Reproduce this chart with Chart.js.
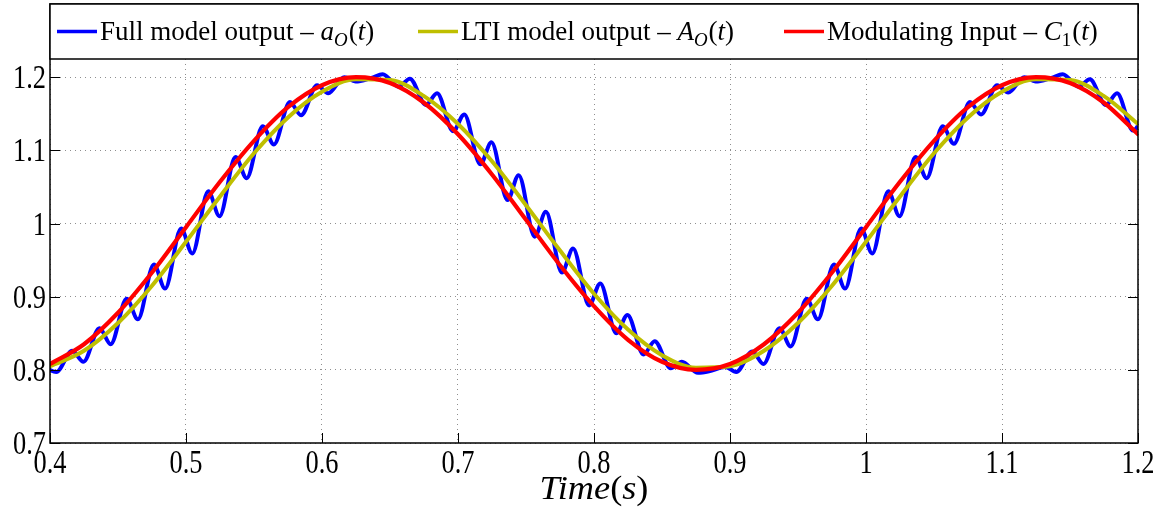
<!DOCTYPE html>
<html>
<head>
<meta charset="utf-8">
<script src="https://cdn.jsdelivr.net/npm/chart.js@4.4.1/dist/chart.umd.min.js"></script>
<style>
  html, body { margin: 0; padding: 0; background: #ffffff; }
  #wrap { width: 1172px; height: 513px; position: relative; }
</style>
</head>
<body>
<div id="wrap"><canvas id="chart"></canvas></div>
<script>
// Axis ticks
const xTicks = [0.4, 0.5, 0.6, 0.7, 0.8, 0.9, 1.0, 1.1, 1.2];
const yTicks = [0.7, 0.8, 0.9, 1.0, 1.1, 1.2];

// Time base (s) shared by the smooth curves
const tSmooth = [0.400, 0.425, 0.450, 0.475, 0.500, 0.525, 0.550, 0.575, 0.600, 0.625,
                 0.650, 0.675, 0.700, 0.725, 0.750, 0.775, 0.800, 0.825, 0.850, 0.875,
                 0.900, 0.925, 0.950, 0.975, 1.000, 1.025, 1.050, 1.075, 1.100, 1.125,
                 1.150, 1.175, 1.200];

// Modulating input C1(t)
const modulatingInput = [0.808, 0.835, 0.878, 0.933, 0.995, 1.057, 1.113, 1.159, 1.189, 1.200,
                         1.192, 1.165, 1.122, 1.067, 1.005, 0.943, 0.887, 0.841, 0.811, 0.800,
                         0.808, 0.835, 0.878, 0.933, 0.995, 1.057, 1.113, 1.159, 1.189, 1.200,
                         1.192, 1.165, 1.122];

// LTI model output A_O(t)
const ltiOutput = [0.805, 0.826, 0.864, 0.915, 0.975, 1.037, 1.096, 1.145, 1.180, 1.197,
                   1.196, 1.174, 1.136, 1.085, 1.025, 0.963, 0.904, 0.855, 0.820, 0.803,
                   0.805, 0.826, 0.864, 0.915, 0.975, 1.037, 1.096, 1.145, 1.180, 1.197,
                   1.196, 1.174, 1.136];

// Full model output a_O(t): times of its successive turning points
const tFull = [0.3964, 0.4046, 0.4164, 0.4246, 0.4364, 0.4446, 0.4564, 0.4646, 0.4764, 0.4846,
               0.4964, 0.5046, 0.5164, 0.5246, 0.5364, 0.5446, 0.5564, 0.5646, 0.5764, 0.5846,
               0.5964, 0.6046, 0.6164, 0.6246, 0.6364, 0.6446, 0.6564, 0.6646, 0.6764, 0.6846,
               0.6964, 0.7046, 0.7164, 0.7246, 0.7364, 0.7446, 0.7564, 0.7646, 0.7764, 0.7846,
               0.7964, 0.8046, 0.8164, 0.8246, 0.8364, 0.8446, 0.8564, 0.8646, 0.8764, 0.8846,
               0.8964, 0.9046, 0.9164, 0.9246, 0.9364, 0.9446, 0.9564, 0.9646, 0.9764, 0.9846,
               0.9964, 1.0046, 1.0164, 1.0246, 1.0364, 1.0446, 1.0564, 1.0646, 1.0764, 1.0846,
               1.0964, 1.1046, 1.1164, 1.1246, 1.1364, 1.1446, 1.1564, 1.1646, 1.1764, 1.1846,
               1.1964, 1.2046];

const fullOutput = [0.803, 0.797, 0.826, 0.811, 0.857, 0.835, 0.897, 0.869, 0.944, 0.911,
                    0.993, 0.959, 1.044, 1.010, 1.091, 1.062, 1.133, 1.108, 1.166, 1.148,
                    1.189, 1.178, 1.200, 1.194, 1.199, 1.204, 1.187, 1.198, 1.162, 1.178,
                    1.126, 1.149, 1.081, 1.111, 1.032, 1.066, 0.982, 1.016, 0.933, 0.966,
                    0.888, 0.918, 0.850, 0.875, 0.821, 0.839, 0.802, 0.811, 0.796, 0.798,
                    0.804, 0.797, 0.825, 0.808, 0.857, 0.832, 0.897, 0.869, 0.944, 0.911,
                    0.993, 0.959, 1.044, 1.010, 1.091, 1.062, 1.133, 1.109, 1.166, 1.149,
                    1.189, 1.179, 1.200, 1.194, 1.199, 1.204, 1.187, 1.197, 1.162, 1.178,
                    1.127, 1.149];

const BLUE = '#0000ff';
const OLIVE = '#bfbf00';
const RED = '#ff0000';
const SERIF = '"Liberation Serif", "Times New Roman", serif';

const toPoints = (ts, vs) => ts.map((t, i) => ({ x: t, y: vs[i] }));

// Draw a sequence of text runs (roman / italic / subscript) left to right
function drawRuns(ctx, x, y, runs, size) {
  for (const r of runs) {
    const s = r.sub ? size * 0.7 : size;
    ctx.font = (r.it ? 'italic ' : '') + s + 'px ' + SERIF;
    ctx.fillText(r.t, x, y + (r.sub ? size * 0.22 : 0));
    x += ctx.measureText(r.t).width + (r.kern || 0);
  }
  return x;
}
function runsWidth(ctx, runs, size) {
  let w = 0;
  for (const r of runs) {
    const s = r.sub ? size * 0.7 : size;
    ctx.font = (r.it ? 'italic ' : '') + s + 'px ' + SERIF;
    w += ctx.measureText(r.t).width + (r.kern || 0);
  }
  return w;
}

const legendItems = [
  { color: BLUE, x0: 57, runs: [{ t: 'Full model output \u2013 ' }, { t: 'a', it: true }, { t: 'O', it: true, sub: true, kern: 1 },
                                 { t: '(' }, { t: 't', it: true }, { t: ')' }] },
  { color: OLIVE, x0: 418, runs: [{ t: 'LTI model output \u2013 ' }, { t: 'A', it: true }, { t: 'O', it: true, sub: true, kern: 1 },
                                  { t: '(' }, { t: 't', it: true }, { t: ')' }] },
  { color: RED, x0: 784, runs: [{ t: 'Modulating Input \u2013 ' }, { t: 'C', it: true }, { t: '1', sub: true, kern: 1 },
                                { t: '(' }, { t: 't', it: true }, { t: ')' }] }
];

const TICK_SIZE = 33;
const TICK_SQUEEZE = 0.8;

const decor = {
  id: 'decor',
  afterDatasetsDraw(chart) {
    const { ctx, chartArea: a, scales: { x, y } } = chart;
    ctx.save();
    ctx.fillStyle = '#000';
    ctx.strokeStyle = '#000';

    // inward tick marks on all four sides
    ctx.lineWidth = 1;
    ctx.beginPath();
    x.ticks.forEach(t => {
      const px = Math.round(x.getPixelForValue(t.value)) + 0.5;
      ctx.moveTo(px, a.bottom); ctx.lineTo(px, a.bottom - 10);
      ctx.moveTo(px, a.top); ctx.lineTo(px, a.top + 10);
    });
    y.ticks.forEach(t => {
      const py = Math.round(y.getPixelForValue(t.value)) + 0.5;
      ctx.moveTo(a.left, py); ctx.lineTo(a.left + 10, py);
      ctx.moveTo(a.right, py); ctx.lineTo(a.right - 10, py);
    });
    ctx.stroke();

    // axes box
    ctx.lineWidth = 1.5;
    ctx.strokeRect(a.left, a.top, a.right - a.left, a.bottom - a.top);

    // tick labels
    ctx.textBaseline = 'alphabetic';
    ctx.font = TICK_SIZE + 'px ' + SERIF;
    x.ticks.forEach(t => {
      const label = String(+t.value.toFixed(1));
      const px = x.getPixelForValue(t.value);
      ctx.save();
      ctx.translate(px, 473);
      ctx.scale(TICK_SQUEEZE, 1);
      ctx.textAlign = 'center';
      ctx.fillText(label, 0, 0);
      ctx.restore();
    });
    y.ticks.forEach(t => {
      const label = String(+t.value.toFixed(1));
      const py = y.getPixelForValue(t.value);
      ctx.save();
      ctx.translate(a.left - 4, py + 11);
      ctx.scale(TICK_SQUEEZE, 1);
      ctx.textAlign = 'right';
      ctx.fillText(label, 0, 0);
      ctx.restore();
    });

    // x-axis title: Time(s)
    const titleRuns = [{ t: 'Time', it: true }, { t: '(' }, { t: 's', it: true }, { t: ')' }];
    const TITLE_SIZE = 33, TITLE_STRETCH = 1.1;
    ctx.save();
    ctx.textAlign = 'left';
    const tw = runsWidth(ctx, titleRuns, TITLE_SIZE) * TITLE_STRETCH;
    ctx.translate((a.left + a.right) / 2 - tw / 2, 499);
    ctx.scale(TITLE_STRETCH, 1);
    drawRuns(ctx, 0, 0, titleRuns, TITLE_SIZE);
    ctx.restore();

    // legend box across the top of the axes
    const lx = a.left, ly = a.top, lw = a.right - a.left, lh = 55;
    ctx.fillStyle = '#fff';
    ctx.fillRect(lx, ly, lw, lh);
    ctx.lineWidth = 1.5;
    ctx.strokeStyle = '#000';
    ctx.strokeRect(lx, ly, lw, lh);
    ctx.textAlign = 'left';
    legendItems.forEach(item => {
      ctx.strokeStyle = item.color;
      ctx.lineWidth = 3.5;
      ctx.beginPath();
      ctx.moveTo(item.x0, 31.5);
      ctx.lineTo(item.x0 + 40, 31.5);
      ctx.stroke();
      ctx.fillStyle = '#000';
      drawRuns(ctx, item.x0 + 43, 40, item.runs, 27);
    });
    ctx.restore();
  }
};

const gridStyle = { color: 'rgba(130,130,130,0.9)', lineWidth: 1, drawTicks: false };

new Chart(document.getElementById('chart'), {
  type: 'line',
  data: {
    datasets: [
      { label: 'Modulating Input', data: toPoints(tSmooth, modulatingInput), borderColor: RED,
        borderWidth: 4.2, order: 0 },
      { label: 'LTI model output', data: toPoints(tSmooth, ltiOutput), borderColor: OLIVE,
        borderWidth: 4, order: 1 },
      { label: 'Full model output', data: toPoints(tFull, fullOutput), borderColor: BLUE,
        borderWidth: 4, order: 2 }
    ]
  },
  options: {
    responsive: true,
    maintainAspectRatio: false,
    animation: false,
    events: [],
    parsing: false,
    layout: { padding: { top: 4, right: 34, left: 0, bottom: 0 } },
    elements: {
      point: { radius: 0 },
      line: { cubicInterpolationMode: 'monotone', capBezierPoints: false, fill: false,
              borderJoinStyle: 'round', borderCapStyle: 'round' }
    },
    datasets: { line: { clip: 0 } },
    plugins: { legend: { display: false }, tooltip: { enabled: false } },
    scales: {
      x: {
        type: 'linear', min: 0.4, max: 1.2,
        afterBuildTicks: s => { s.ticks = xTicks.map(v => ({ value: v })); },
        afterFit: s => { s.height = 70; },
        ticks: { display: false },
        grid: gridStyle,
        border: { display: false, dash: [1, 4] }
      },
      y: {
        type: 'linear', min: 0.7, max: 1.3,
        afterBuildTicks: s => { s.ticks = yTicks.map(v => ({ value: v })); },
        afterFit: s => { s.width = 50; },
        ticks: { display: false },
        grid: gridStyle,
        border: { display: false, dash: [1, 4] }
      }
    }
  },
  plugins: [decor]
});
</script>
</body>
</html>
